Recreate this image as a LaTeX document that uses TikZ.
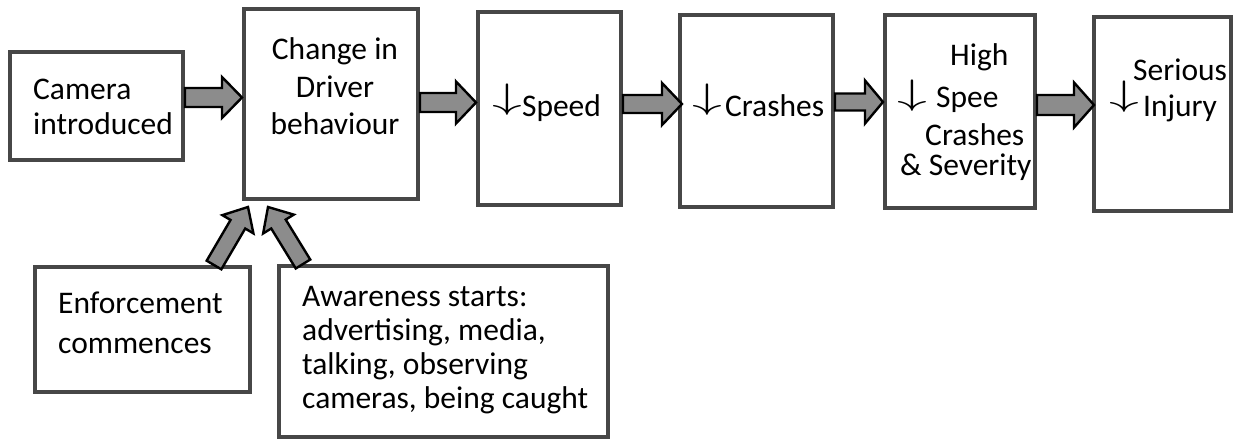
\documentclass[tikz,border=0pt]{standalone}
\usepackage{fontspec}
\setmainfont{Carlito}
\usetikzlibrary{calc}
\tikzset{
  boxnode/.style={draw=black!72, line width=4pt, fill=white, inner sep=0pt},
  txt/.style={anchor=base west, align=left, inner sep=0pt,
    font=\fontsize{31.5}{38}\selectfont},
  barrowstyle/.style={draw=black, line width=2.4pt, fill=black!45, line join=miter}
}
\newcommand\dn[1][2]{\raisebox{\dimexpr #1pt+6pt\relax}{\scalebox{2.4}[1.42]{$\downarrow$}}}
% block arrow: start, end, shaft half width, head half width, head length
\newcommand\barrow[5]{%
  \coordinate (bA) at #1;
  \coordinate (bB) at #2;
  \coordinate (bH) at ($(bB)!#5!(bA)$);
  \draw[barrowstyle] ($(bA)!#3!90:(bB)$) -- ($(bH)!#3!-90:(bA)$) -- ($(bH)!#4!-90:(bA)$)
     -- (bB) -- ($(bH)!#4!90:(bA)$) -- ($(bH)!#3!90:(bA)$) -- ($(bA)!#3!-90:(bB)$) -- cycle;
}
\begin{document}
\begin{tikzpicture}[x=1pt,y=-1pt]
\useasboundingbox (0,0) rectangle (1238,441);
% boxes
\node[boxnode, minimum width=173pt, minimum height=108pt] (cam) at (96.5,106) {};
\node[boxnode, minimum width=174pt, minimum height=190pt] (chg) at (331,104) {};
\node[boxnode, minimum width=143pt, minimum height=193pt] (spd) at (549.5,108.5) {};
\node[boxnode, minimum width=153pt, minimum height=192pt] (cra) at (756.5,111) {};
\node[boxnode, minimum width=150pt, minimum height=193pt] (hig) at (960,111.5) {};
\node[boxnode, minimum width=137pt, minimum height=194pt] (ser) at (1162.5,114) {};
\node[boxnode, minimum width=215pt, minimum height=125pt] (enf) at (142.5,329.5) {};
\node[boxnode, minimum width=329pt, minimum height=171pt] (awa) at (443.5,351.5) {};
% texts (anchored at the baseline of the last line)
\node[txt, font=\fontsize{31.5}{35}\selectfont] (camt) at (33,135) {Camera\\introduced};
\node[txt, anchor=base, align=center, font=\fontsize{31.5}{37.5}\selectfont] (chgt) at (335,135) {Change in\\Driver\\behaviour};
\node[txt] (spdt) at (492,117) {\dn\hspace{0pt}Speed};
\node[txt] (crat) at (692,117) {\dn\hspace{3pt}Crashes};
\node[txt] (higt) at (897,175) {\hspace*{53pt}High\\[4pt]\dn[-3]\hspace{9pt}Spee\\\hspace*{28pt}Crashes\\[-8pt]\hspace*{3pt}\& Severity};
\node[txt, font=\fontsize{31.5}{32}\selectfont] (sert) at (1109,117) {\hspace*{24pt}Serious\\\dn[5]\hspace{4pt}Injury};
\node[txt, font=\fontsize{31.5}{40}\selectfont] (enft) at (58,353) {Enforcement\\commences};
\node[txt, font=\fontsize{31.5}{34}\selectfont] (awat) at (302,408) {Awareness starts:\\advertising, media,\\talking, observing\\cameras, being caught};
% arrows
\coordinate (a1) at ($(cam.east)+(0,-8.5)$);
\barrow{(a1)}{(a1 -| chg.west)}{9.5pt}{20.5pt}{20pt}
\coordinate (a2) at ($(chg.east)+(0,-1.5)$);
\barrow{(a2)}{(a2 -| spd.west)}{9.5pt}{21pt}{20pt}
\coordinate (a3) at ($(spd.east)+(0,-4.5)$);
\barrow{(a3)}{($(a3 -| cra.west)+(4,0)$)}{9pt}{21pt}{20pt}
\coordinate (a4) at ($(cra.east)+(0,-9)$);
\barrow{(a4)}{(a4 -| hig.west)}{8.5pt}{21.5pt}{18pt}
\coordinate (a5) at ($(hig.east)+(0,-6.5)$);
\barrow{(a5)}{($(a5 -| ser.west)+(2,0)$)}{10pt}{22.5pt}{20pt}
\barrow{($(enf.north east)+(-38,0)$)}{($(chg.south west)+(6,6)$)}{8.5pt}{18pt}{20pt}
\barrow{($(awa.north west)+(26,0)$)}{($(chg.south west)+(26,6)$)}{8.5pt}{18pt}{20pt}
\end{tikzpicture}
\end{document}
